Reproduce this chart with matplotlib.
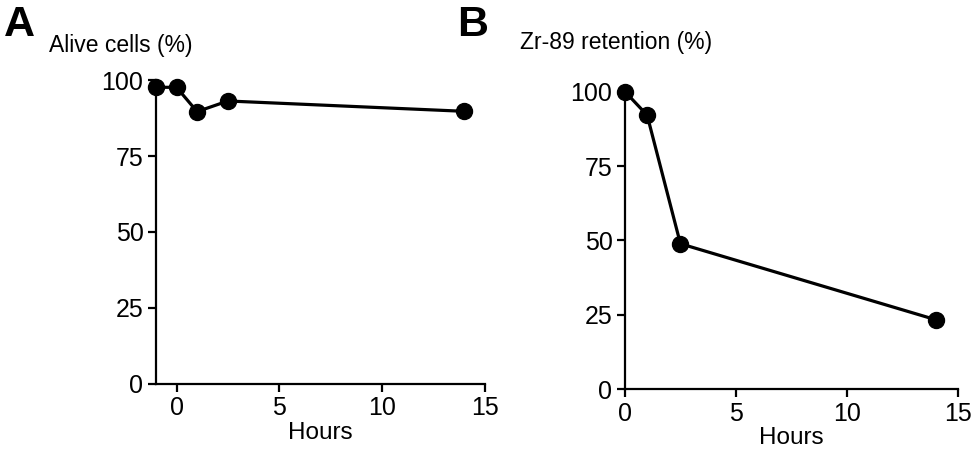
import matplotlib
matplotlib.use("Agg")
import matplotlib.pyplot as plt

plt.rcParams['font.family'] = ['Liberation Sans', 'DejaVu Sans']

# Panel A: cell viability
hours_a = [-1, 0, 1, 2.5, 14]
alive = [97.6, 97.6, 89.6, 93.1, 89.7]

# Panel B: Zr-89 retention
hours_b = [0, 1, 2.5, 14]
retention = [100, 92.1, 48.9, 23.4]

yticks = [0, 25, 50, 75, 100]
xticks = [0, 5, 10, 15]

fig = plt.figure(figsize=(9.73, 4.51), dpi=100)
axA = fig.add_axes([0.1603, 0.1486, 0.338, 0.674])
axB = fig.add_axes([0.6423, 0.1368, 0.342, 0.660])


def style(ax, x, y, xlim):
    ax.plot(x, y, color='black', lw=2.3, marker='o',
            markersize=11.5, clip_on=False, zorder=3)
    ax.set_xlim(*xlim)
    ax.set_ylim(0, 100)
    ax.set_xticks(xticks)
    ax.set_yticks(yticks)
    for s in ['top', 'right']:
        ax.spines[s].set_visible(False)
    for s in ['left', 'bottom']:
        ax.spines[s].set_linewidth(1.6)
    ax.tick_params(width=1.6, length=6, labelsize=18, pad=3)
    ax.set_xlabel('Hours', fontsize=17.5, labelpad=1)


style(axA, hours_a, alive, (-1, 15))
style(axB, hours_b, retention, (0, 15))

fig.text(0.004, 0.988, 'A', fontsize=31, fontweight='bold', va='top')
fig.text(0.050, 0.900, 'Alive cells (%)', fontsize=16.5, va='center')
fig.text(0.470, 0.988, 'B', fontsize=31, fontweight='bold', va='top')
fig.text(0.534, 0.905, 'Zr-89 retention (%)', fontsize=16.5, va='center')

fig.savefig('out.png', dpi=100)
